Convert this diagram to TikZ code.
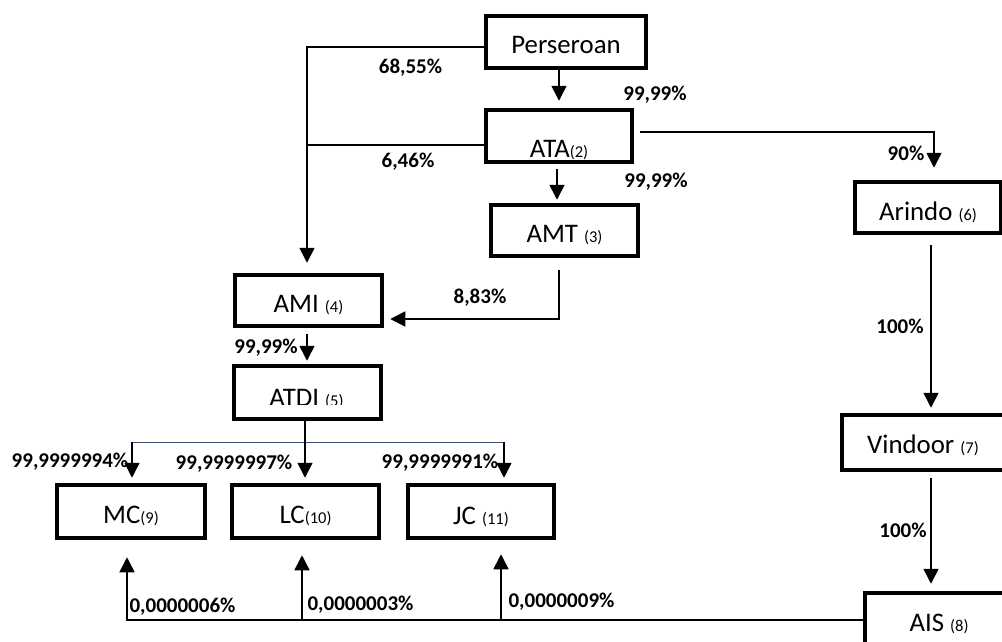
\documentclass[tikz,border=0pt]{standalone}
\usepackage{fontspec}
\setmainfont{Carlito}
\usetikzlibrary{arrows.meta}
\definecolor{linkblue}{RGB}{47,84,150}
\newcommand{\subn}[1]{{\fontsize{16.5}{16.5}\selectfont #1}}
\begin{document}
\begin{tikzpicture}[x=1pt,y=-1pt,
  box/.style={draw,line width=4.5pt,rectangle,inner sep=0pt,text depth=0pt,font=\fontsize{26.8}{26.8}\selectfont},
  conn/.style={line width=1.6pt},
  arr/.style={conn,-{Triangle[width=15pt,length=15pt]}},
  pct/.style={font=\fontsize{21}{21}\selectfont\bfseries,inner sep=0pt}]
\clip (0,0) rectangle (1002,641);
\fill[white] (0,0) rectangle (1002,641);
% boxes
\node[box,minimum width=160pt,minimum height=52pt,text height=22pt] (p) at (566,42) {Perseroan};
\node[box,minimum width=146pt,minimum height=52pt,text height=43pt] (ata) at (559,136) {ATA\subn{(2)}};
\node[box,minimum width=147pt,minimum height=51pt,text height=24pt] (amt) at (564.5,230.5) {AMT \subn{(3)}};
\node[box,minimum width=147pt,minimum height=51pt,text height=23pt] (ami) at (308.5,300.5) {AMI \subn{(4)}};
\node[box,minimum width=147pt,minimum height=53pt] (atdi) at (307.5,392.5) {};
\begin{scope}
\clip (232,364) rectangle (383,404.5);
\node[font=\fontsize{26.8}{26.8}\selectfont,anchor=base,inner sep=0pt] (atditext) at (306.5,406) {ATDI \subn{(5)}};
\end{scope}
\node[box,minimum width=148pt,minimum height=53pt,text height=23pt] (mc) at (131,511.5) {MC\subn{(9)}};
\node[box,minimum width=147pt,minimum height=53pt,text height=23pt] (lc) at (305.5,511.5) {LC\subn{(10)}};
\node[box,minimum width=146pt,minimum height=53pt,text height=26pt] (jc) at (481,511.5) {JC \subn{(11)}};
\node[box,minimum width=146pt,minimum height=51pt,text height=25pt] (arindo) at (928,207.5) {Arindo \subn{(6)}};
\node[box,minimum width=162pt,minimum height=55pt,text height=21pt] (vindoor) at (923,442.5) {Vindoor \subn{(7)}};
\node[box,minimum width=148pt,minimum height=60pt,text height=16pt] (ais) at (939,623) {AIS \subn{(8)}};
% helper coordinates
\coordinate (k1) at (307,47);
\coordinate (k2) at (307,145);
\coordinate (k3) at (934,132);
\coordinate (k4) at (559,319);
\coordinate (k5) at (132,442);
\coordinate (k6) at (504,442);
\coordinate (k7) at (127,620);
\coordinate (k8) at (302,620);
\coordinate (k9) at (501,620);
\coordinate (xa) at (559,0);
\coordinate (xb) at (557,0);
\coordinate (xc) at (305,0);
\coordinate (xd) at (931,0);
% connectors
\draw[arr,shorten >=10pt] (p.west |- k1) -- (k1) -- (k1 |- ami.north);
\draw[conn] (ata.west |- k2) -- (k2);
\draw[arr,shorten >=7pt] (p.south -| xa) -- (ata.north -| xa);
\draw[arr,shorten <=5pt,shorten >=3pt] (ata.south -| xb) -- (amt.north -| xb);
\draw[arr,shorten <=6pt,shorten >=12pt] (ata.east |- k3) -- (k3) -- (k3 |- arindo.north);
\draw[arr,shorten <=12pt,shorten >=6pt] (amt.south -| k4) -- (k4) -- (ami.east |- k4);
\draw[arr,shorten <=6pt,shorten >=3pt] (ami.south -| k1) -- (atdi.north -| k1);
\draw[linkblue,line width=1pt] (k5) -- (k6);
\draw[arr,shorten >=5pt] (atdi.south -| xc) -- (lc.north -| xc);
\draw[arr,shorten >=5pt] (k5) -- (k5 |- mc.north);
\draw[arr,shorten >=5pt] (k6) -- (k6 |- jc.north);
\draw[arr,shorten <=10pt,shorten >=5pt] (arindo.south -| xd) -- (vindoor.north -| xd);
\draw[arr,shorten <=6pt,shorten >=7pt] (vindoor.south -| xd) -- (ais.north -| xd);
\draw[arr,shorten >=17pt] (ais.west |- k7) -- (k7) -- (k7 |- mc.south);
\draw[arr,shorten >=15pt] (k8) -- (k8 |- lc.south);
\draw[arr,shorten >=14pt] (k9) -- (k9 |- jc.south);
% labels
\node[pct] (l1) at (410.5,68) {68,55\%};
\node[pct] (l2) at (655,95) {99,99\%};
\node[pct] (l3) at (408,162) {6,46\%};
\node[pct] (l4) at (656,182) {99,99\%};
\node[pct] (l5) at (906,153) {90\%};
\node[pct] (l6) at (480,297.5) {8,83\%};
\node[pct] (l7) at (266,347.5) {99,99\%};
\node[pct] (l8) at (900,326.5) {100\%};
\node[pct] (l9) at (903,530) {100\%};
\node[pct] (l10) at (70,462) {99,9999994\%};
\node[pct] (l11) at (234,464) {99,9999997\%};
\node[pct] (l12) at (440,463) {99,9999991\%};
\node[pct] (l13) at (182.5,607) {0,0000006\%};
\node[pct] (l14) at (360.5,604.5) {0,0000003\%};
\node[pct] (l15) at (561.5,602) {0,0000009\%};
\end{tikzpicture}
\end{document}
